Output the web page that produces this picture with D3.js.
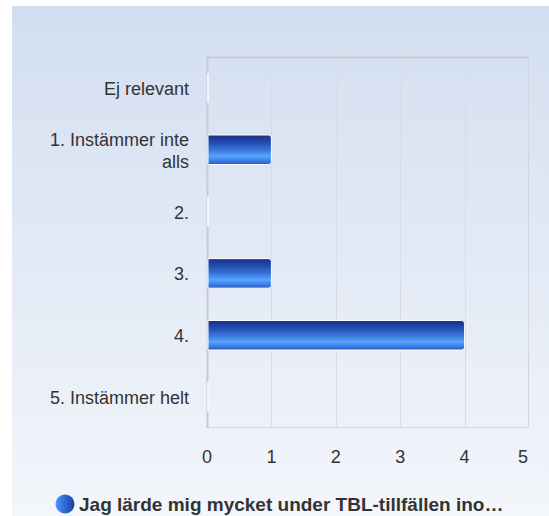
<!DOCTYPE html>
<html><head><meta charset="utf-8">
<script src="https://cdn.jsdelivr.net/npm/d3@7"></script>
<style>
html,body{margin:0;padding:0;background:#fff;}
svg{display:block;font-family:"Liberation Sans",Arial,sans-serif;}
</style></head>
<body>
<svg id="chart" width="549" height="516"></svg>
<script>
const categories = ["Ej relevant", "1. Instämmer inte alls", "2.", "3.", "4.", "5. Instämmer helt"];
const categoryLines = [["Ej relevant"], ["1. Instämmer inte", "alls"], ["2."], ["3."], ["4."], ["5. Instämmer helt"]];
const values = [0, 1, 0, 1, 4, 0];
const xTicks = [0, 1, 2, 3, 4, 5];
const seriesName = "Jag lärde mig mycket under TBL-tillfällen ino…";

const W = 549, H = 516;
const svg = d3.select("#chart");
const defs = svg.append("defs");

const bg = defs.append("linearGradient").attr("id","bg").attr("x1",0).attr("y1",0).attr("x2",0).attr("y2",1);
bg.append("stop").attr("offset","0%").attr("stop-color","#d2def0");
bg.append("stop").attr("offset","100%").attr("stop-color","#f3f6fb");

const bar = defs.append("linearGradient").attr("id","bar").attr("x1",0).attr("y1",0).attr("x2",0).attr("y2",1);
[["0%","#182f88"],["30%","#2752b8"],["55%","#3d7ee0"],["72%","#5ba3ff"],["85%","#3f85ea"],["100%","#2458c4"]]
  .forEach(s=>bar.append("stop").attr("offset",s[0]).attr("stop-color",s[1]));

const leg = defs.append("linearGradient").attr("id","leg").attr("x1",0).attr("y1",0).attr("x2",1).attr("y2",0);
leg.append("stop").attr("offset","0%").attr("stop-color","#4a98ff");
leg.append("stop").attr("offset","100%").attr("stop-color","#1a3c9e");

svg.append("rect").attr("x",12).attr("y",6).attr("width",W-12).attr("height",H-6).attr("fill","url(#bg)");

const plot = {left:207, right:529, top:57, bottom:428};
const x = d3.scaleLinear().domain([0,5]).range([plot.left, plot.right]);
const y = d3.scaleBand().domain(categories).range([plot.top, plot.bottom]).paddingInner(0).paddingOuter(0);
const barH = 29.5;

// grid
svg.append("g").selectAll("line").data(xTicks.slice(1,-1)).join("line")
  .attr("x1",d=>Math.round(x(d))+0.5).attr("x2",d=>Math.round(x(d))+0.5)
  .attr("y1",plot.top).attr("y2",plot.bottom)
  .attr("stroke","#d8dde4").attr("stroke-width",1);

// frame
svg.append("rect").attr("x",plot.left+0.5).attr("y",plot.top+0.5)
  .attr("width",plot.right-plot.left-1).attr("height",plot.bottom-plot.top-1)
  .attr("fill","none").attr("stroke","#d3d7dd").attr("stroke-width",1);
svg.append("line").attr("x1",plot.left).attr("x2",plot.right).attr("y1",plot.top+0.5).attr("y2",plot.top+0.5)
  .attr("stroke","#c9cdd3").attr("stroke-width",2);
svg.append("line").attr("x1",plot.left+0.5).attr("x2",plot.left+0.5).attr("y1",plot.top).attr("y2",plot.bottom)
  .attr("stroke","#c8ccd2").attr("stroke-width",2);

// bars
const data = categories.map((c,i)=>({c, v:values[i]}));
svg.append("g").selectAll("path").data(data).join("path")
  .attr("d", d=>{
    const x0 = x(0)+1, x1 = x(d.v);
    const yc = y(d.c)+y.bandwidth()/2;
    const y0 = yc-barH/2, y1 = yc+barH/2;
    const w = Math.max(0, x1-x0);
    const r = Math.min(3, w/2);
    return `M${x0},${y0}H${x0+w-r}Q${x0+w},${y0} ${x0+w},${y0+r}V${y1-r}Q${x0+w},${y1} ${x0+w-r},${y1}H${x0}Z`;
  })
  .attr("fill","url(#bar)").attr("stroke","#ffffff").attr("stroke-width",1);

// category labels
const cl = svg.append("g").attr("font-size",18).attr("fill","#333333").attr("text-anchor","end");
data.forEach((d,i)=>{
  const lines = categoryLines[i];
  const yc = y(d.c)+y.bandwidth()/2;
  const lh = 22;
  const start = yc - (lines.length-1)*lh/2 + 7;
  const t = cl.append("text");
  lines.forEach((ln,j)=>t.append("tspan").attr("x",189).attr("y",start+j*lh).text(ln));
});

// x tick labels
const xl = svg.append("g").attr("font-size",18).attr("fill","#333333").attr("text-anchor","middle");
xTicks.forEach(t=>{
  const el = xl.append("text").attr("x",x(t)).attr("y",463).text(t);
  const bb = el.node().getBBox();
  if (bb.x+bb.width > 528) el.attr("x", x(t) - (bb.x+bb.width-528));
});

// legend
const lg = svg.append("g");
lg.append("circle").attr("cx",65).attr("cy",504).attr("r",9.5).attr("fill","url(#leg)");
lg.append("text").attr("x",79).attr("y",511).attr("font-size",19).attr("font-weight","bold").attr("fill","#333333").text(seriesName);
</script>
</body></html>
